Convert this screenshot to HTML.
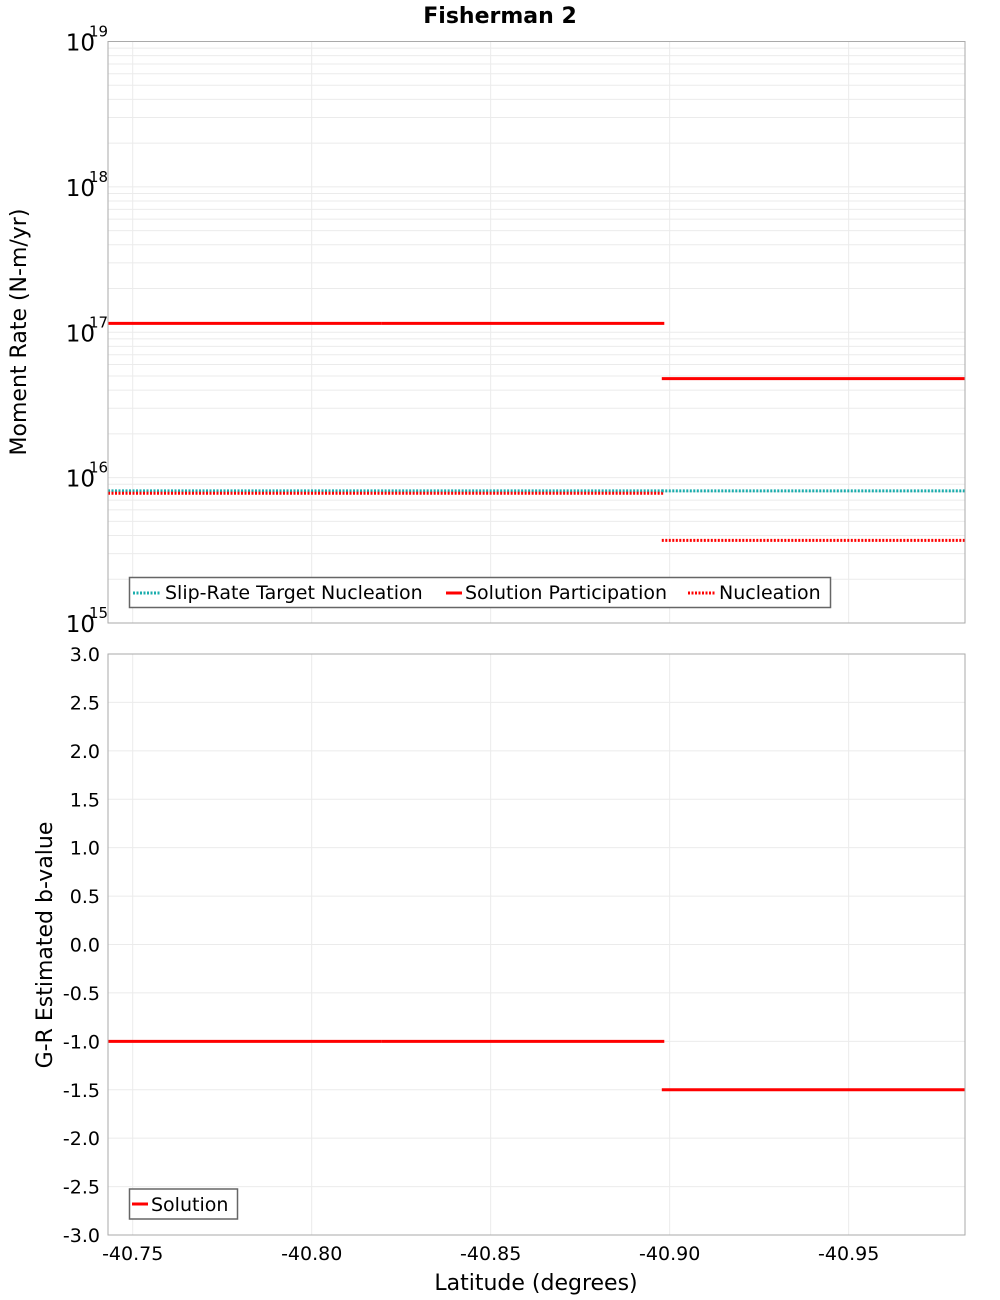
<!DOCTYPE html>
<html><head><meta charset="utf-8"><style>
body{margin:0;background:#fff}
svg{display:block;font-family:"DejaVu Sans","Liberation Sans",sans-serif}
</style></head><body>
<svg id="c" width="1000" height="1300" viewBox="0 0 1000 1300" xmlns="http://www.w3.org/2000/svg">
<text x="500" y="23" text-anchor="middle" font-size="22" font-weight="bold">Fisherman 2</text>
<g id="topPanel"></g>
<g id="botPanel"></g>
<text transform="translate(26,332) rotate(-90)" text-anchor="middle" font-size="22">Moment Rate (N-m/yr)</text>
<text transform="translate(52,945) rotate(-90)" text-anchor="middle" font-size="22">G-R Estimated b-value</text>
<text x="536" y="1290" text-anchor="middle" font-size="22">Latitude (degrees)</text>
</svg>
<script>
// Data
const segStarts = [-40.7431, -40.8194, -40.8978];
const segEnds = [-40.8194, -40.8985, -40.9825];
const solutionParticipation = [1.15e17, 1.15e17, 4.8e16];
const nucleation = [7.8e15, 7.8e15, 3.7e15];
const targetNucleation = [8.1e15, 8.1e15, 8.1e15];
const bValues = [-1.0, -1.0, -1.5];
const xTicks = [-40.75, -40.80, -40.85, -40.90, -40.95];
const xTickLabels = ["-40.75", "-40.80", "-40.85", "-40.90", "-40.95"];
const logDecades = [15, 16, 17, 18, 19];
const bTicks = [-3,-2.5,-2,-1.5,-1,-0.5,0,0.5,1,1.5,2,2.5,3];

const NS = "http://www.w3.org/2000/svg";
const L = 108, R = 965;
const T1 = 41.5, B1 = 623, T2 = 654, B2 = 1235;
const xMin = -40.7431, xMax = -40.9825;
const X = v => L + (v - xMin) / (xMax - xMin) * (R - L);
const Y1 = v => B1 - (Math.log10(v) - 15) / 4 * (B1 - T1);
const Y2 = v => B2 - (v + 3) / 6 * (B2 - T2);

function mk(parent, tag, attrs, text) {
  const e = document.createElementNS(NS, tag);
  for (const k in attrs) e.setAttribute(k, attrs[k]);
  if (text !== undefined) e.textContent = text;
  parent.appendChild(e);
  return e;
}
const topG = document.getElementById('topPanel');
const botG = document.getElementById('botPanel');

for (let d = 15; d < 19; d++) {
  for (let m = 1; m <= 9; m++) {
    const y = Y1(m * Math.pow(10, d));
    const g = mk(topG, 'line', {x1: L, x2: R, y1: y, y2: y, stroke: '#ebebeb', 'stroke-width': 1});
    
    
  }
}
for (const t of xTicks) {
  const g = mk(topG, 'line', {x1: X(t), x2: X(t), y1: T1, y2: B1, stroke: '#ebebeb'});
  
  
  const g2 = mk(botG, 'line', {x1: X(t), x2: X(t), y1: T2, y2: B2, stroke: '#ebebeb'});
  
  
}
for (const t of bTicks) {
  const g = mk(botG, 'line', {x1: L, x2: R, y1: Y2(t), y2: Y2(t), stroke: '#ebebeb'});
  
  
  const tl = mk(botG, 'text', {x: 100, y: Y2(t) + 7, 'text-anchor': 'end', 'font-size': 19}, t.toFixed(1));
  
  
}
for (const d of logDecades) {
  const y = Y1(Math.pow(10, d));
  const a = mk(topG, 'text', {x: 95, y: y + 9, 'text-anchor': 'end', 'font-size': 23}, '10');
  
  
  const b = mk(topG, 'text', {x: 89, y: y - 5, 'font-size': 15}, String(d));
  
  
}
xTicks.forEach((t, i) => {
  const tl = mk(botG, 'text', {x: X(t), y: 1260, 'text-anchor': 'middle', 'font-size': 19}, xTickLabels[i]);
  
  
});

segStarts.forEach((s, i) => {
  const e = segEnds[i];
  const a = mk(topG, 'line', {x1: X(s), x2: X(e), y1: Y1(targetNucleation[i]), y2: Y1(targetNucleation[i]), stroke: '#1aadad', 'stroke-width': 3, 'stroke-dasharray': '2 1.5'});
  
  
  const b = mk(topG, 'line', {x1: X(s), x2: X(e), y1: Y1(nucleation[i]), y2: Y1(nucleation[i]), stroke: '#ff0000', 'stroke-width': 3, 'stroke-dasharray': '2 1.5'});
  
  
  const c = mk(topG, 'line', {x1: X(s), x2: X(e), y1: Y1(solutionParticipation[i]), y2: Y1(solutionParticipation[i]), stroke: '#ff0000', 'stroke-width': 3});
  
  
  const d = mk(botG, 'line', {x1: X(s), x2: X(e), y1: Y2(bValues[i]), y2: Y2(bValues[i]), stroke: '#ff0000', 'stroke-width': 3});
  
  
});

const f1 = mk(topG, 'rect', {x: L, y: T1, width: R - L, height: B1 - T1, fill: 'none', stroke: '#aaa'});


const f2 = mk(botG, 'rect', {x: L, y: T2, width: R - L, height: B2 - T2, fill: 'none', stroke: '#aaa'});



const lg = mk(topG, 'g', {});


mk(lg, 'rect', {x: 129.5, y: 577.5, width: 701, height: 30, fill: '#fff', stroke: '#666', 'stroke-width': 1.5});
const items = [
  {x: 133, w: 28, c: '#1aadad', dash: '2 1.5', t: 'Slip-Rate Target Nucleation', tx: 165},
  {x: 446, w: 16, c: '#ff0000', dash: '', t: 'Solution Participation', tx: 465},
  {x: 688, w: 28, c: '#ff0000', dash: '2 1.5', t: 'Nucleation', tx: 719}
];
for (const it of items) {
  const ln = mk(lg, 'line', {x1: it.x, x2: it.x + it.w, y1: 593, y2: 593, stroke: it.c, 'stroke-width': 3, 'stroke-dasharray': it.dash});
  
  
  const tt = mk(lg, 'text', {x: it.tx, y: 599, 'font-size': 19}, it.t);
  
  
}
const lg2 = mk(botG, 'g', {});


mk(lg2, 'rect', {x: 129.5, y: 1189, width: 108, height: 30, fill: '#fff', stroke: '#666', 'stroke-width': 1.5});
mk(lg2, 'line', {x1: 132, x2: 148, y1: 1204, y2: 1204, stroke: '#ff0000', 'stroke-width': 3});
const st = mk(lg2, 'text', {x: 151, y: 1211, 'font-size': 19}, 'Solution');


</script>
</body></html>
